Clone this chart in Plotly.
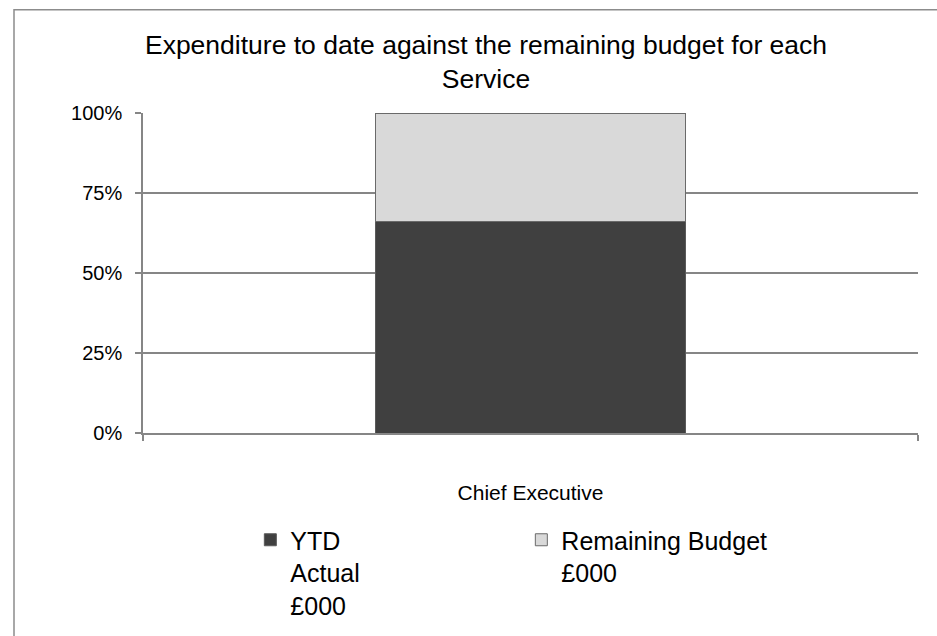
import plotly.graph_objects as go

categories = ["Chief Executive"]
ytd_actual = [66.1]
remaining_budget = [33.9]
series_names = ["YTD<br>Actual<br>£000", "Remaining Budget<br>£000"]
y_ticks = [0, 25, 50, 75, 100]
y_tick_labels = ["0%", "25%", "50%", "75%", "100%"]

FONT = "Arial, Liberation Sans, sans-serif"
GRID = "#868686"

fig = go.Figure()
fig.add_trace(go.Bar(x=categories, y=ytd_actual, name=series_names[0],
                     marker=dict(color="#404040", line=dict(color="#5a5a5a", width=1))))
fig.add_trace(go.Bar(x=categories, y=remaining_budget, name=series_names[1],
                     marker=dict(color="#d9d9d9", line=dict(color="#6a6a6a", width=1))))

fig.update_layout(
    width=937, height=636,
    barmode="stack", barnorm="percent", bargap=0.6,
    paper_bgcolor="white", plot_bgcolor="white",
    margin=dict(l=143, r=19, t=113, b=203, autoexpand=False),
    font=dict(family=FONT, color="black"),
    title=dict(text="Expenditure to date against the remaining budget for each<br>Service",
               font=dict(size=26.5, family=FONT, color="black"),
               xref="container", x=0.5187, xanchor="center",
               yref="container", y=1 - 54/636, yanchor="top"),
    showlegend=True,
    legend=dict(orientation="h", x=0.1385, xanchor="left",
                yref="container", y=1 - 517/636, yanchor="top",
                valign="top", traceorder="normal", entrywidth=226,
                font=dict(size=25, family=FONT, color="black"),
                bgcolor="rgba(0,0,0,0)"),
    shapes=[dict(type="rect", xref="paper", yref="paper",
                 x0=(14-143)/775, x1=1.2, y0=-1.0, y1=(433.3-10)/320,
                 line=dict(color="#8c8c8c", width=1.5), fillcolor="rgba(0,0,0,0)",
                 layer="below")],
)

fig.update_yaxes(range=[0, 100], tickvals=y_ticks, ticktext=y_tick_labels,
                 showgrid=True, gridcolor=GRID, gridwidth=1.5,
                 showline=True, linecolor=GRID, linewidth=1.5,
                 ticks="outside", ticklen=6, tickcolor=GRID, tickwidth=1.5,
                 ticklabelstandoff=9,
                 tickfont=dict(size=20, family=FONT, color="black"), zeroline=False)
fig.update_xaxes(type="category", range=[-0.5, 0.5], showgrid=False,
                 showline=True, linecolor=GRID, linewidth=1.5,
                 ticks="outside", tickson="boundaries", ticklen=6, tickcolor=GRID, tickwidth=1.5,
                 ticklabelstandoff=40,
                 tickfont=dict(size=21, family=FONT, color="black"))

fig.write_html("out.html")
